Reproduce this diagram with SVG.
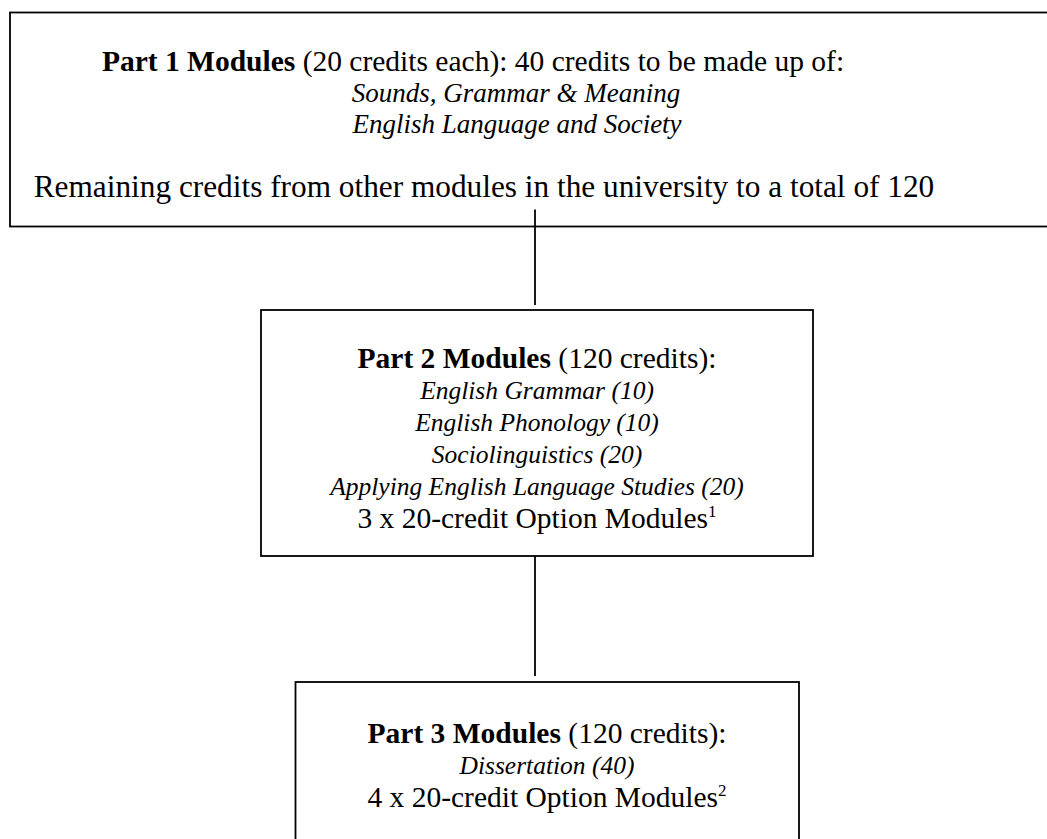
<svg xmlns="http://www.w3.org/2000/svg" width="1047" height="839" viewBox="0 0 1047 839">
<style>
.box{fill:#fff;stroke:#000;stroke-width:1.8}
.con{stroke:#000;stroke-width:1.8;fill:none}
text{font-family:"Liberation Serif","Times New Roman",serif;fill:#000;text-anchor:middle}
.r{font-size:29.5px}
.rl{font-size:31.3px}
.b{font-weight:bold}
.i{font-style:italic;font-size:25.5px}
.it{font-style:italic;font-size:27px}
.sup{font-size:17px}
</style>
<rect width="1047" height="839" fill="#fff"/>
<g id="part1">
<rect class="box" x="10" y="12.5" width="1060" height="214"/>
<text class="r" x="473" y="71"><tspan class="b">Part 1 Modules</tspan> (20 credits each): 40 credits to be made up of:</text>
<text class="it" x="516" y="102">Sounds, Grammar &amp; Meaning</text>
<text class="it" x="517" y="133">English Language and Society</text>
<text class="rl" x="484" y="197">Remaining credits from other modules in the university to a total of 120</text>
</g>
<g id="part2">
<rect class="box" x="261" y="310" width="552" height="246"/>
<text class="r" x="537" y="368"><tspan class="b">Part 2 Modules</tspan> (120 credits):</text>
<text class="i" x="537" y="399">English Grammar (10)</text>
<text class="i" x="537" y="431">English Phonology (10)</text>
<text class="i" x="537" y="463">Sociolinguistics (20)</text>
<text class="i" x="537" y="495">Applying English Language Studies (20)</text>
<text class="r" x="537" y="528">3 x 20-credit Option Modules<tspan class="sup" dy="-11">1</tspan></text>
</g>
<g id="part3">
<rect class="box" x="295.5" y="682" width="503.5" height="200"/>
<text class="r" x="547" y="743"><tspan class="b">Part 3 Modules</tspan> (120 credits):</text>
<text class="i" x="547" y="774">Dissertation (40)</text>
<text class="r" x="547" y="807">4 x 20-credit Option Modules<tspan class="sup" dy="-11">2</tspan></text>
</g>
<g id="connectors">
<line class="con" x1="535" y1="209.5" x2="535" y2="305"/>
<line class="con" x1="535" y1="556" x2="535" y2="676"/>
</g>
</svg>
